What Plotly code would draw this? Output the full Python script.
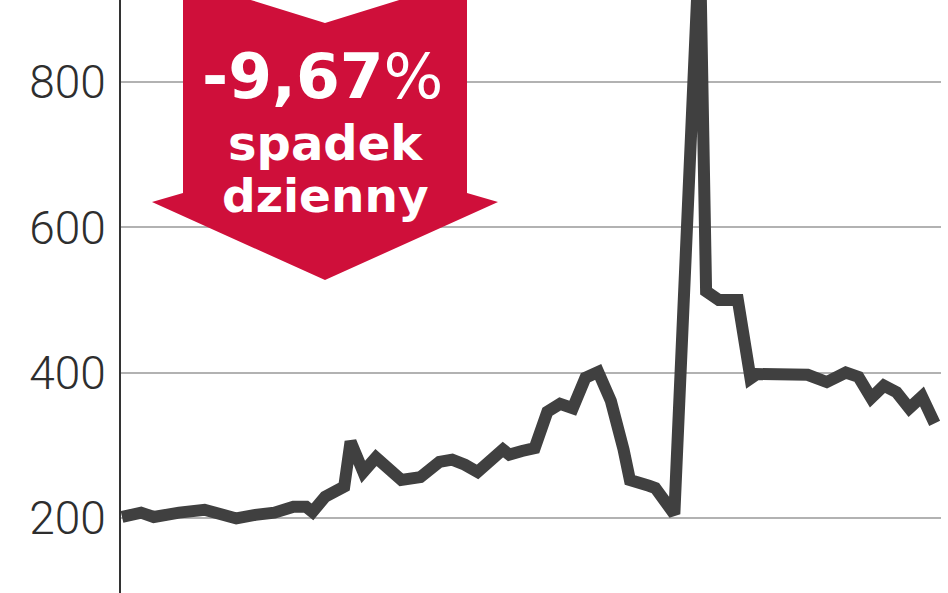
import plotly.graph_objects as go

# ---- data (session number, price) ----
sessions = [0, 3, 5, 7, 9, 13, 15, 18, 21, 24, 27, 29, 30, 32, 35, 36, 38, 40,
            44, 47, 50, 52, 54, 56, 60, 61, 63, 65, 67, 69, 71, 73, 75, 77, 79,
            80, 83, 84, 87, 91, 92, 94, 97, 99, 100, 108, 111, 114, 116, 118,
            120, 122, 124, 126, 128]
prices = [201, 207, 201, 205, 207, 211, 207, 199, 204, 207, 215, 215, 208, 229,
          243, 305, 263, 283, 252, 256, 277, 280, 273, 263, 294, 287, 292, 296,
          346, 357, 351, 393, 401, 361, 294, 252, 244, 241, 205, 1000, 512, 500,
          500, 392, 398, 397, 387, 400, 394, 365, 382, 373, 351, 367, 330]
y_ticks = [200, 400, 600, 800]
y_tick_labels = ["200", "400", "600", "800"]
badge_value = "-9,67"
badge_line2 = "spadek"
badge_line3 = "dzienny"

W, H = 948, 593
ML, MR, MT, MB = 121, 7, 0, 0
PW = W - ML - MR
PH = H - MT - MB


def px(x, y):
    """pixel -> paper coordinates (for decorations only)"""
    return (x - ML) / PW, 1 - (y - MT) / PH


fig = go.Figure()
fig.add_trace(go.Scatter(
    x=sessions, y=prices, mode="lines",
    line=dict(color="#404040", width=12),
    hoverinfo="skip", showlegend=False,
))

# red arrow (decoration)
arrow_pts = [(183, -21), (325, 23), (467, -21), (467, 193), (498, 202),
             (325, 280), (152, 202), (183, 193)]
path = "M " + " L ".join("%.5f,%.5f" % px(a, b) for a, b in arrow_pts) + " Z"
fig.add_shape(type="path", xref="paper", yref="paper", path=path,
              fillcolor="#cf0f3a", line=dict(width=0), layer="above")

font_family = "DejaVu Sans"
cx, _ = px(325, 0)
fig.add_annotation(xref="paper", yref="paper", x=px(322, 0)[0], y=px(0, 77)[1],
                   text="<b>%s</b>%%" % badge_value, showarrow=False,
                   xanchor="center", yanchor="middle",
                   font=dict(family=font_family, size=63, color="white"))
fig.add_annotation(xref="paper", yref="paper", x=cx, y=px(0, 143)[1],
                   text="<b>%s</b>" % badge_line2, showarrow=False,
                   xanchor="center", yanchor="middle",
                   font=dict(family=font_family, size=48, color="white"))
fig.add_annotation(xref="paper", yref="paper", x=cx, y=px(0, 196)[1],
                   text="<b>%s</b>" % badge_line3, showarrow=False,
                   xanchor="center", yanchor="middle",
                   font=dict(family=font_family, size=47, color="white"))

fig.update_layout(
    width=W, height=H,
    margin=dict(l=ML, r=MR, t=MT, b=MB, pad=0),
    paper_bgcolor="white", plot_bgcolor="white",
    xaxis=dict(range=[-0.16, 129.0], visible=False, showgrid=False,
               zeroline=False),
    yaxis=dict(range=[96.3, 913.4], tickvals=y_ticks, ticktext=y_tick_labels,
               showgrid=True, gridcolor="#b2b2b2", gridwidth=2,
               zeroline=False, showline=True, linecolor="#333333",
               linewidth=2, ticks="", ticklabelstandoff=4,
               tickfont=dict(family="Roboto", size=46, color="#2e2e2e",
                             weight=300)),
)

fig.write_html("out.html",
               config={"displayModeBar": False, "staticPlot": True},
               post_script="document.body.style.margin='0';"
                           "document.body.style.overflow='hidden';")
